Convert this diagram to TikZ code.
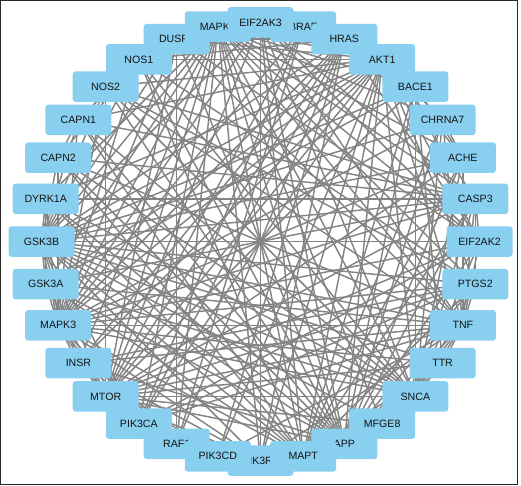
\documentclass[tikz,border=0pt]{standalone}
\usepackage{fontspec}
\setmainfont{Liberation Sans}
\pgfdeclarelayer{background}
\pgfsetlayers{background,main}
\definecolor{nodeblue}{RGB}{137,207,240}
\definecolor{edgegray}{RGB}{132,132,132}
\definecolor{framegray}{RGB}{40,40,40}
\definecolor{labelblack}{RGB}{20,20,20}
\begin{document}
\begin{tikzpicture}[x=1pt,y=-1pt,
  gene/.style={rectangle, rounded corners=3pt, fill=nodeblue, draw=none,
    minimum width=66pt, minimum height=30.5pt, inner sep=0pt,
    text=labelblack, font=\fontsize{10.6}{12}\selectfont},
  link/.style={draw=edgegray, line width=1.45pt}]
\useasboundingbox (0,0) rectangle (521,486);
% nodes (drawing order chosen so that overlaps match)
\foreach \i/\lab in {1/BRAF,30/DUSP1,16/PIK3R1,18/RAF1,14/APP,3/AKT1,2/HRAS,4/BACE1,5/CHRNA7,6/ACHE,7/CASP3,8/EIF2AK2,9/PTGS2,10/TNF,11/TTR,12/SNCA,13/MFGE8,15/MAPT,17/PIK3CD,19/PIK3CA,20/MTOR,21/INSR,22/MAPK3,23/GSK3A,24/GSK3B,25/DYRK1A,26/CAPN2,27/CAPN1,28/NOS2,29/NOS1,31/MAPK1,0/EIF2AK3}
  \node[gene] (n\i) at ({260.5+219*cos(90-11.25*\i)},{241.5-219*sin(90-11.25*\i)}) {\lab};
\begin{pgfonlayer}{background}
\fill[white] (0,0) rectangle (521,486);
\foreach \a/\b in {0/3,1/3,2/3,3/4,3/6,3/7,3/8,3/9,3/10,3/12,3/14,3/15,3/16,3/17,3/19,3/20,3/21,3/22,3/23,3/24,3/25,3/27,3/28,3/29,3/30,3/31,
14/24,15/24,23/24,24/25,22/24,20/24,19/24,16/24,7/24,12/24,9/24,10/24,24/26,24/27,2/24,24/31,0/24,8/24,
14/15,15/23,15/25,15/26,15/27,12/15,7/15,6/15,4/15,15/31,15/22,13/15,11/15,9/15,
4/14,6/14,7/14,11/14,12/14,13/14,14/23,14/26,14/27,14/28,14/29,10/14,9/14,14/31,
19/20,17/20,16/20,0/20,8/20,20/21,20/22,20/31,2/20,1/20,18/20,12/20,14/20,10/20,
16/19,17/19,2/19,19/21,1/19,18/19,19/31,19/22,9/19,10/19,
16/17,16/21,2/16,0/16,16/22,16/31,2/17,17/21,
1/18,2/18,18/22,18/31,18/30,1/2,1/22,1/31,1/30,
2/22,2/31,2/21,2/30,2/29,
22/30,22/31,10/22,9/22,7/22,22/23,22/29,22/28,
30/31,10/31,9/31,7/31,28/31,29/31,0/31,8/31,
0/8,0/7,0/22,0/10,0/14,0/15,8/10,7/8,8/22,8/12,8/14,
7/9,7/10,7/12,7/26,7/27,7/28,9/10,10/12,10/28,10/21,6/10,10/11,
9/28,9/29,9/12,28/29,12/28,12/29,26/29,27/29,26/27,12/27,
23/25,12/25,25/31,20/23,14/21,4/6,4/12,4/11,4/23,4/20,
5/6,5/14,5/15,3/5,5/12,5/24,5/10,6/12,6/22,11/12,10/13,10/30,8/30,14/30,7/23,10/26,
4/24,4/31,6/24,6/31,7/20,11/24,11/22,12/31,12/22,13/24,13/31,9/20,9/21,10/16,10/17,
14/25,12/26,21/24,21/31,21/22,23/31,12/23,10/23,22/25,7/25,22/26,22/27,20/28,24/28,
24/29,15/29,20/30,24/30,0/30,0/2,0/1,0/12,5/22,5/31,6/20,2/8,8/19,11/20,12/13,13/20}
  \draw[link] (n\a.center) -- (n\b.center);
\end{pgfonlayer}
\draw[framegray, line width=1.2pt] (0.6,0.6) rectangle (517.8,484.2);
\end{tikzpicture}
\end{document}
